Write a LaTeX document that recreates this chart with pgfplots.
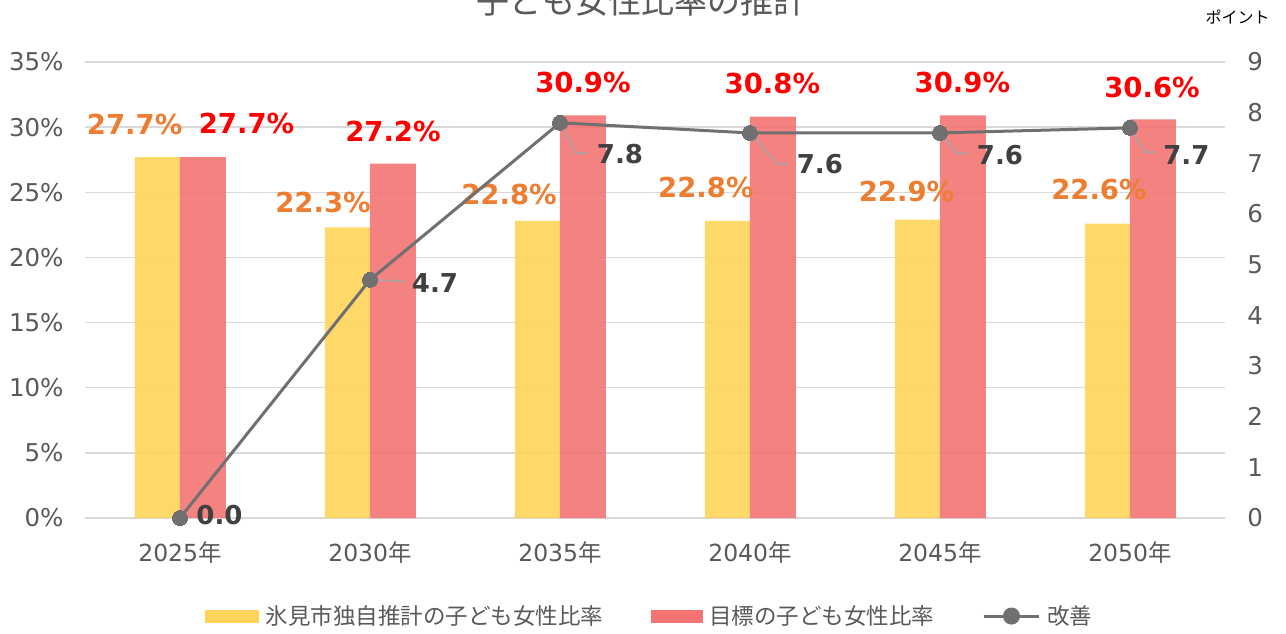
\documentclass[border=0pt]{standalone}
\usepackage{fontspec}
\setmainfont{DejaVu Sans}
\newfontfamily\jp{Noto Sans CJK JP}
\usepackage{pgfplots}
\pgfplotsset{compat=1.18}
\definecolor{ylw}{RGB}{254,213,90}
\definecolor{rd}{RGB}{243,116,115}
\definecolor{org}{RGB}{237,125,49}
\definecolor{rdl}{RGB}{255,0,0}
\definecolor{lbl}{RGB}{64,64,64}
\definecolor{tk}{RGB}{89,89,89}
\definecolor{grd}{RGB}{217,217,217}
\definecolor{ln}{RGB}{112,112,112}
\definecolor{ldr}{RGB}{166,166,166}
\newcommand{\fs}[1]{\fontsize{#1}{#1}\selectfont}
\begin{document}
\begin{tikzpicture}
\path[use as bounding box] (0pt,0pt) rectangle (1286pt,633pt);
\node[anchor=base, text=tk, font=\jp\fs{33}, inner sep=0pt] at (641pt,619.5pt) {子ども女性比率の推計};
\node[anchor=center, text=black, font=\jp\fs{16}, inner sep=0pt] at (1237.5pt,615.5pt) {ポイント};
\begin{axis}[
  at={(85pt,115pt)}, anchor=south west,
  scale only axis, width=1140pt, height=456pt,
  xmin=-0.5, xmax=5.5, ymin=0, ymax=35,
  axis line style={draw=none},
  ytick={0,5,...,35},
  yticklabels={0\%,5\%,10\%,15\%,20\%,25\%,30\%,35\%},
  xtick={0,1,2,3,4,5},
  xticklabels={{2025{\jp 年}},{2030{\jp 年}},{2035{\jp 年}},{2040{\jp 年}},{2045{\jp 年}},{2050{\jp 年}}},
  major tick length=0pt,
  ymajorgrids, grid style={grd, line width=1.3pt},
  tick label style={text=tk, font=\fs{23.5}},
  yticklabel style={font=\fs{24.5}, xshift=-18pt},
  xticklabel style={yshift=-20pt},
  clip=false,
]
\addplot[ybar, bar width=45pt, bar shift=-22.5pt, fill=ylw, draw=none, fill opacity=0.9]
  coordinates {(0,27.7) (1,22.3) (2,22.8) (3,22.8) (4,22.9) (5,22.6)};
\addplot[ybar, bar width=46pt, bar shift=23pt, fill=rd, draw=none, fill opacity=0.9]
  coordinates {(0,27.7) (1,27.2) (2,30.9) (3,30.8) (4,30.9) (5,30.6)};
% yellow series labels
\node[text=org, font=\bfseries\fs{27.5}] at (axis cs:-0.239,30.2) {27.7\%};
\node[text=org, font=\bfseries\fs{27.5}] at (axis cs:0.753,24.25) {22.3\%};
\node[text=org, font=\bfseries\fs{27.5}] at (axis cs:1.732,24.83) {22.8\%};
\node[text=org, font=\bfseries\fs{27.5}] at (axis cs:2.768,25.33) {22.8\%};
\node[text=org, font=\bfseries\fs{27.5}] at (axis cs:3.824,25.06) {22.9\%};
\node[text=org, font=\bfseries\fs{27.5}] at (axis cs:4.837,25.25) {22.6\%};
% red series labels
\node[text=rdl, font=\bfseries\fs{27.5}] at (axis cs:0.35,30.28) {27.7\%};
\node[text=rdl, font=\bfseries\fs{27.5}] at (axis cs:1.121,29.66) {27.2\%};
\node[text=rdl, font=\bfseries\fs{27.5}] at (axis cs:2.121,33.46) {30.9\%};
\node[text=rdl, font=\bfseries\fs{27.5}] at (axis cs:3.118,33.38) {30.8\%};
\node[text=rdl, font=\bfseries\fs{27.5}] at (axis cs:4.118,33.46) {30.9\%};
\node[text=rdl, font=\bfseries\fs{27.5}] at (axis cs:5.116,33.08) {30.6\%};
\end{axis}
\begin{axis}[
  at={(85pt,115pt)}, anchor=south west,
  scale only axis, width=1140pt, height=456pt,
  xmin=-0.5, xmax=5.5, ymin=0, ymax=9,
  axis y line*=right, axis x line=none,
  axis line style={draw=none},
  ytick={0,1,2,3,4,5,6,7,8,9},
  yticklabels={0,1,2,3,4,5,6,7,8,9},
  major tick length=0pt,
  tick label style={text=tk, font=\fs{24.5}},
  yticklabel style={xshift=19pt},
  clip=false,
  legend columns=3,
  legend style={draw=none, fill=none, font=\jp\fs{22.5}, text=tk,
    at={(0.4955,-0.215)}, anchor=center,
    /tikz/every odd column/.style={column sep=5pt},
    /tikz/every even column/.style={column sep=46pt}},
]
\addlegendimage{legend image code/.code={\fill[ylw] (0pt,-6pt) rectangle (53pt,6pt);}}
\addlegendentry{氷見市独自推計の子ども女性比率}
\addlegendimage{legend image code/.code={\fill[rd] (0pt,-6pt) rectangle (51pt,6pt);}}
\addlegendentry{目標の子ども女性比率}
% leader lines
\draw[ldr, line width=1.5pt] (axis cs:1,4.7) -- (axis cs:1.174,4.677);
\draw[ldr, line width=1.5pt] (axis cs:2,7.8) -- (axis cs:2.084,7.203) -- (axis cs:2.147,7.203);
\draw[ldr, line width=1.5pt] (axis cs:3,7.6) -- (axis cs:3.147,6.986) -- (axis cs:3.2,6.986);
\draw[ldr, line width=1.5pt] (axis cs:4,7.6) -- (axis cs:4.089,7.203) -- (axis cs:4.142,7.203);
\draw[ldr, line width=1.5pt] (axis cs:5,7.7) -- (axis cs:5.079,7.223) -- (axis cs:5.132,7.223);
\addplot[ln, line width=3pt, mark=*, mark size=7.5pt, mark options={fill=ln, draw=ln, line width=0pt},
  legend image code/.code={\draw[ln, line width=3pt] (0pt,0pt) -- (55pt,0pt); \fill[ln] (27.5pt,0pt) circle (7pt);}]
  coordinates {(0,0) (1,4.7) (2,7.8) (3,7.6) (4,7.6) (5,7.7)};
\addlegendentry{改善}
\node[text=lbl, font=\bfseries\fs{26}] at (axis cs:0.208,0.06) {0.0};
\node[text=lbl, font=\bfseries\fs{26}] at (axis cs:1.342,4.64) {4.7};
\node[text=lbl, font=\bfseries\fs{26}] at (axis cs:2.316,7.18) {7.8};
\node[text=lbl, font=\bfseries\fs{26}] at (axis cs:3.368,6.98) {7.6};
\node[text=lbl, font=\bfseries\fs{26}] at (axis cs:4.316,7.16) {7.6};
\node[text=lbl, font=\bfseries\fs{26}] at (axis cs:5.297,7.16) {7.7};
\end{axis}
\end{tikzpicture}
\end{document}
